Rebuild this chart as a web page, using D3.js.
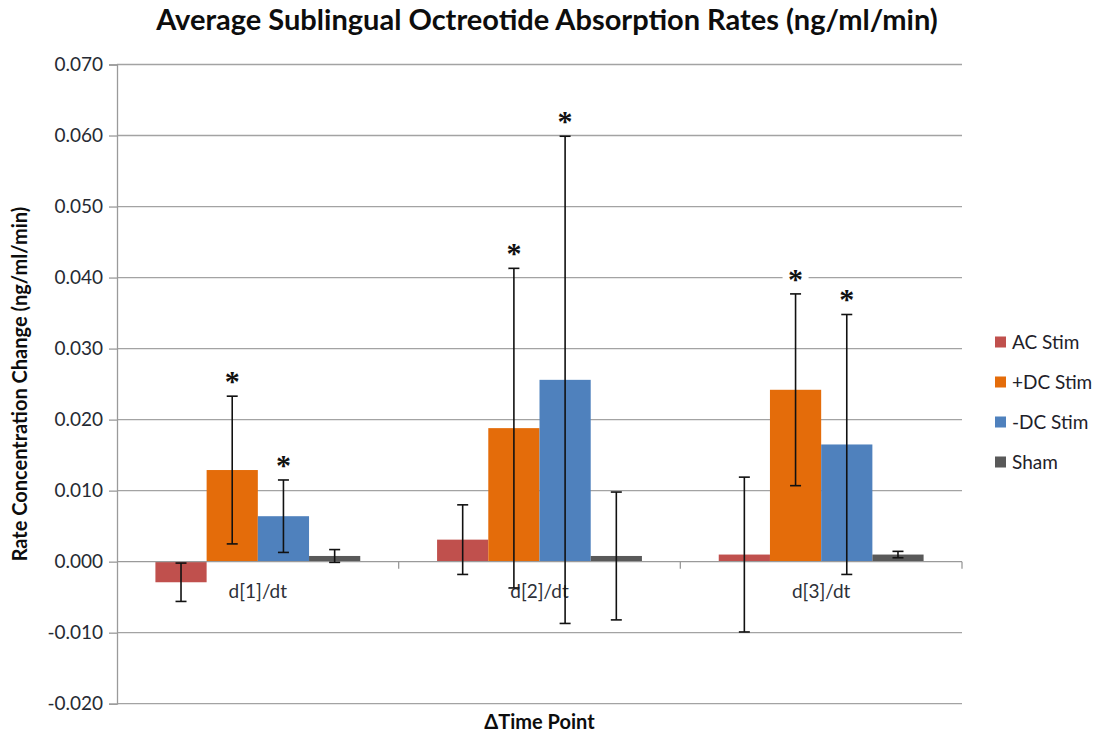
<!DOCTYPE html>
<html>
<head>
<meta charset="utf-8">
<script src="https://cdn.jsdelivr.net/npm/d3@7"></script>
<style>
  body { margin: 0; background: #fff; }
  text { font-family: Lato, "Open Sans", sans-serif; }
</style>
</head>
<body>
<div id="chart"></div>
<script>
// values
const categories = ['d[1]/dt', 'd[2]/dt', 'd[3]/dt'];
const seriesNames = ['AC Stim', '+DC Stim', '-DC Stim', 'Sham'];
const seriesColors = ['#C0504D', '#E46C0A', '#4F81BD', '#595959'];

const acStim = [-0.0029, 0.0031, 0.0010];
const acStimErr = [0.0027, 0.0049, 0.0109];
const posDcStim = [0.0129, 0.0188, 0.0242];
const posDcStimErr = [0.0104, 0.0225, 0.0135];
const negDcStim = [0.0064, 0.0256, 0.0165];
const negDcStimErr = [0.0051, 0.0343, 0.0183];
const sham = [0.0008, 0.0008, 0.0010];
const shamErr = [0.0009, 0.0090, 0.00045];

// which bars carry a "*"
const acStimSig = [false, false, false];
const posDcStimSig = [true, true, true];
const negDcStimSig = [true, true, true];
const shamSig = [false, false, false];

const yTicks = [-0.02, -0.01, 0, 0.01, 0.02, 0.03, 0.04, 0.05, 0.06, 0.07];

const values = [acStim, posDcStim, negDcStim, sham];
const errors = [acStimErr, posDcStimErr, negDcStimErr, shamErr];
const sigs = [acStimSig, posDcStimSig, negDcStimSig, shamSig];

var bars = [];
categories.forEach((c, ci) => {
    seriesNames.forEach((s, si) => {
        bars.push({cat: c, series: s, si: si, value: values[si][ci], err: errors[si][ci], sig: sigs[si][ci]});
    });
});

var width = 1098;
var height = 733;
var plotLeft = 117, plotRight = 962, plotTop = 64.5, plotBottom = 703.7;

var svg = d3.select('#chart').append('svg')
        .attr('width', width)
        .attr('height', height);

var y = d3.scaleLinear().domain([-0.02, 0.07]).range([plotBottom, plotTop]);
var x0 = d3.scaleBand().domain(categories).range([plotLeft, plotRight]);
var x1 = d3.scaleBand().domain(seriesNames).range([0, x0.bandwidth()])
        .paddingInner(0).paddingOuter(0.75);
var color = d3.scaleOrdinal().domain(seriesNames).range(seriesColors);

// excel style: plain hyphen for negatives
var fmt = d => d3.format('.3f')(d).replace('\u2212', '-');

// gridlines
svg.append('g')
    .selectAll('line')
    .data(yTicks.filter(t => t !== 0))
    .enter().append('line')
    .attr('x1', plotLeft).attr('x2', plotRight)
    .attr('y1', d => y(d)).attr('y2', d => y(d))
    .style('stroke', '#a3a3a3')
    .style('stroke-width', 1.3);

// y axis
var yAxis = svg.append('g')
    .attr('transform', 'translate(' + plotLeft + ',0)')
    .call(d3.axisLeft(y).tickValues(yTicks).tickFormat(fmt).tickSize(8).tickPadding(6));
yAxis.select('.domain').style('stroke', '#9a9a9a').style('stroke-width', 1.3);
yAxis.selectAll('.tick line').style('stroke', '#9a9a9a').style('stroke-width', 1.3);
yAxis.selectAll('.tick text')
    .style('font-size', '19px')
    .style('fill', '#262a33')
    .style('font-family', 'Lato, sans-serif');

// bars
svg.append('g')
    .selectAll('rect')
    .data(bars)
    .enter().append('rect')
    .attr('x', d => x0(d.cat) + x1(d.series))
    .attr('width', x1.bandwidth())
    .attr('y', d => y(Math.max(0, d.value)))
    .attr('height', d => Math.abs(y(d.value) - y(0)))
    .style('fill', d => color(d.series));

// zero axis line with category ticks
svg.append('line')
    .attr('x1', plotLeft).attr('x2', plotRight)
    .attr('y1', y(0)).attr('y2', y(0))
    .style('stroke', '#9a9a9a').style('stroke-width', 1.3);
svg.append('g')
    .selectAll('line')
    .data(categories)
    .enter().append('line')
    .attr('x1', d => x0(d) + x0.bandwidth()).attr('x2', d => x0(d) + x0.bandwidth())
    .attr('y1', y(0)).attr('y2', y(0) + 7)
    .style('stroke', '#9a9a9a').style('stroke-width', 1.3);

// category labels
svg.append('g')
    .selectAll('text')
    .data(categories)
    .enter().append('text')
    .attr('x', d => x0(d) + x0.bandwidth() / 2)
    .attr('y', y(0) + 36)
    .attr('text-anchor', 'middle')
    .style('font-size', '19px')
    .style('fill', '#2d3038')
    .text(d => d);

// error bars
var eg = svg.append('g')
    .selectAll('g')
    .data(bars)
    .enter().append('g')
    .attr('transform', d => 'translate(' + (x0(d.cat) + x1(d.series) + x1.bandwidth() / 2) + ',0)');
eg.append('line')
    .attr('y1', d => y(d.value + d.err)).attr('y2', d => y(d.value - d.err))
    .style('stroke', '#111').style('stroke-width', 1.6);
eg.append('line')
    .attr('x1', -5.5).attr('x2', 5.5)
    .attr('y1', d => y(d.value + d.err)).attr('y2', d => y(d.value + d.err))
    .style('stroke', '#111').style('stroke-width', 1.6);
eg.append('line')
    .attr('x1', -5.5).attr('x2', 5.5)
    .attr('y1', d => y(d.value - d.err)).attr('y2', d => y(d.value - d.err))
    .style('stroke', '#111').style('stroke-width', 1.6);

// significance asterisks
var sg = eg.filter(d => d.sig);
sg.append('rect')
    .attr('x', -13).attr('width', 26)
    .attr('y', d => y(d.value + d.err) - 32).attr('height', 24)
    .style('fill', '#fff');
sg.append('text')
    .attr('x', 0)
    .attr('y', d => y(d.value + d.err) - 5)
    .attr('text-anchor', 'middle')
    .style('font-family', '"Liberation Serif", serif')
    .style('font-weight', 'bold')
    .style('font-size', '30px')
    .style('fill', '#111')
    .text('*');

// legend
var lg = svg.append('g')
    .selectAll('g')
    .data(seriesNames)
    .enter().append('g')
    .attr('transform', (d, i) => 'translate(995,' + (342 + i * 40) + ')');
lg.append('rect')
    .attr('x', 0).attr('y', -5.5)
    .attr('width', 11).attr('height', 11)
    .style('fill', d => color(d));
lg.append('text')
    .attr('x', 17).attr('y', 0)
    .attr('dy', '0.35em')
    .style('font-size', '19px')
    .style('fill', '#1e2129')
    .text(d => d);

// titles
svg.append('text')
    .attr('x', 547).attr('y', 30)
    .attr('text-anchor', 'middle')
    .style('font-weight', 'bold')
    .style('font-size', '29px')
    .style('fill', '#0d0d0d')
    .text('Average Sublingual Octreotide Absorption Rates (ng/ml/min)');

svg.append('text')
    .attr('transform', 'translate(27,' + ((plotTop + plotBottom) / 2) + ') rotate(-90)')
    .attr('text-anchor', 'middle')
    .style('font-weight', 'bold')
    .style('font-size', '20px')
    .style('fill', '#0d0d0d')
    .text('Rate Concentration Change (ng/ml/min)');

svg.append('text')
    .attr('x', (plotLeft + plotRight) / 2).attr('y', 729)
    .attr('text-anchor', 'middle')
    .style('font-weight', 'bold')
    .style('font-size', '20px')
    .style('fill', '#0d0d0d')
    .text('\u0394Time Point');
</script>
</body>
</html>
